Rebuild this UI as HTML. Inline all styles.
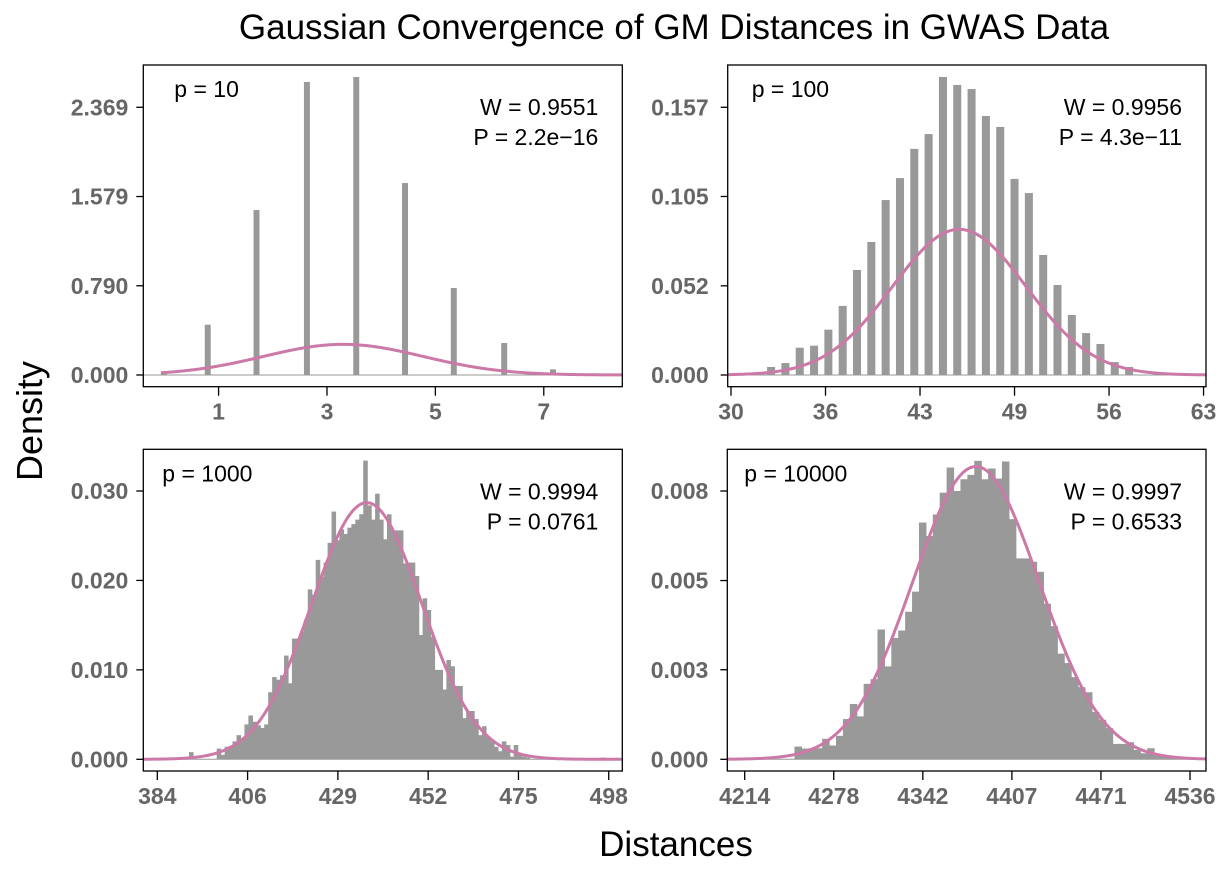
<!DOCTYPE html>
<html><head><meta charset="utf-8">
<style>
html,body{margin:0;padding:0;background:#fff;}
svg{display:block;font-family:"Liberation Sans",Arial,sans-serif;}
.tick{font-size:23px;font-weight:bold;fill:#666;}
.ann{font-size:23px;fill:#000;}
</style></head>
<body>
<svg id="chart" width="1229" height="871" viewBox="0 0 1229 871">
<text x="674" y="39" text-anchor="middle" font-size="35">Gaussian Convergence of GM Distances in GWAS Data</text>
<text x="0" y="0" transform="translate(42,421) rotate(-90)" text-anchor="middle" font-size="36">Density</text>
<text x="676" y="856" text-anchor="middle" font-size="35">Distances</text>
</svg>
<script>
// ---- Panel 1: p = 10 ----
const p10Centers = [-0.04, 0.77, 1.67, 2.6, 3.51, 4.41, 5.31, 6.24, 7.14];
const p10Density = [0.029, 0.445, 1.46, 2.593, 2.637, 1.699, 0.77, 0.283, 0.05];
const p10XTickVals = [0.97, 2.97, 4.97, 6.97];
const p10XTickLabels = ["1", "3", "5", "7"];
const p10YTickVals = [0, 0.7897, 1.5793, 2.369];
const p10YTickLabels = ["0.000", "0.790", "1.579", "2.369"];
const p10Fit = [3.27, 1.47];

// ---- Panel 2: p = 100 ----
const p100Centers = [32.8,33.8,34.8,35.8,36.8,37.8,38.8,39.8,40.8,41.8,42.8,43.8,44.8,45.8,46.8,47.8,48.8,49.8,50.8,51.8,52.8,53.8,54.8,55.8,56.8,57.8];
const p100Density = [0.0047,0.007,0.016,0.0172,0.0266,0.0405,0.0616,0.078,0.1026,0.1155,0.1326,0.1413,0.1748,0.1701,0.1677,0.1519,0.1455,0.115,0.1067,0.0704,0.0528,0.0352,0.0246,0.0182,0.0076,0.0047];
const p100XTickVals = [30, 36.6, 43.2, 49.8, 56.4, 63];
const p100XTickLabels = ["30", "36", "43", "49", "56", "63"];
const p100YTickVals = [0, 0.0523, 0.1047, 0.157];
const p100YTickLabels = ["0.000", "0.052", "0.105", "0.157"];
const p100Fit = [45.94, 4.67];

// ---- Panel 3: p = 1000 (bins of width 1 starting at 384) ----
const p1000Start = 384;
const p1000Width = 1;
const p1000Density = [0,0.0002,0,0,0,0,0,0,0.0008,0,0,0,0,0,0,0.0012,0.0005,0.0014,0.0015,0.002,0.0027,0.0022,0.0039,0.0049,0.0042,0.0038,0.0035,0.0039,0.0075,0.0092,0.0089,0.0094,0.0116,0.0085,0.0135,0.0135,0.0143,0.0156,0.019,0.0184,0.0223,0.0204,0.022,0.0242,0.0277,0.0245,0.0257,0.0252,0.0259,0.0263,0.0268,0.0274,0.0334,0.0284,0.0268,0.0297,0.0268,0.0246,0.0274,0.0255,0.0256,0.0256,0.0219,0.022,0.022,0.0205,0.0139,0.018,0.0167,0.0137,0.01,0.01,0.0078,0.0111,0.0104,0.0082,0.0082,0.0046,0.0054,0.0054,0.0045,0.0027,0.0037,0.0025,0.002,0.0014,0.0009,0.002,0.0016,0.0003,0.0016,0.0005,0.0003,0.0002,0,0,0,0,0,0,0,0,0,0,0,0,0,0,0,0,0,0,0.0002];
const p1000XTickVals = [384, 406.8, 429.6, 452.4, 475.2, 498];
const p1000XTickLabels = ["384", "406", "429", "452", "475", "498"];
const p1000YTickVals = [0, 0.01, 0.02, 0.03];
const p1000YTickLabels = ["0.000", "0.010", "0.020", "0.030"];
const p1000Fit = [436.9, 13.9];

// ---- Panel 4: p = 10000 (bins of width 5 starting at 4250) ----
const p10000Start = 4250;
const p10000Width = 5;
const p10000Density = [0.00038,0.00032,0.00033,0.00033,0.00061,0.00041,0.0007,0.0012,0.00165,0.00128,0.00225,0.00239,0.00387,0.00277,0.00362,0.00384,0.0044,0.005,0.00706,0.00666,0.0073,0.00795,0.0087,0.008,0.00835,0.00848,0.0089,0.00835,0.00867,0.00837,0.00888,0.00716,0.00599,0.00599,0.00589,0.00559,0.00464,0.00397,0.00315,0.00287,0.00245,0.00215,0.002,0.00141,0.00118,0.00093,0.00046,0.00046,0.00051,0.00028,0.00018,0.00033,0.00013,0.00008,0.00008];
const p10000XTickVals = [4214, 4278.4, 4342.8, 4407.2, 4471.6, 4536];
const p10000XTickLabels = ["4214", "4278", "4342", "4407", "4471", "4536"];
const p10000YTickVals = [0, 0.00267, 0.00533, 0.008];
const p10000YTickLabels = ["0.000", "0.003", "0.005", "0.008"];
const p10000Fit = [4381.2, 45.7];

const NS = "http://www.w3.org/2000/svg";
const svg = document.getElementById("chart");
function mk(tag, attrs, parent) {
  const e = document.createElementNS(NS, tag);
  for (const k in attrs) e.setAttribute(k, attrs[k]);
  (parent || svg).appendChild(e);
  return e;
}

function panel(cfg) {
  const g = mk("g", {});
  
  
  const sx = v => cfg.px0 + (v - cfg.xv0) * cfg.pxPerX;
  const sy = v => cfg.y0 - (v - cfg.yTicks[0]) / (cfg.yTicks[cfg.yTicks.length-1] - cfg.yTicks[0]) * (cfg.y0 - cfg.yTop);
  const clip = "clip-" + cfg.name;
  const cp = mk("clipPath", {id: clip}, g);
  mk("rect", {x: cfg.box[0], y: cfg.box[1], width: cfg.box[2]-cfg.box[0], height: cfg.box[3]-cfg.box[1]}, cp);
  const inner = mk("g", {"clip-path": "url(#" + clip + ")"}, g);
  const base = mk("line", {x1: cfg.box[0], x2: cfg.box[2], y1: sy(0), y2: sy(0), stroke: "#999", "stroke-width": 1}, inner);
  
  
  cfg.bars.forEach((b, i) => {
    if (b[2] <= 0) return;
    const x1 = sx(b[0]), x2 = sx(b[1]);
    const r = mk("rect", {x: x1, y: sy(b[2]), width: Math.max(x2 - x1 + cfg.overlap, 0.5), height: sy(0) - sy(b[2]), fill: "#999999"}, inner);
    
    
  });
  const [mu, sd] = cfg.fit;
  const xa = cfg.xv0 + (cfg.curveStart - cfg.px0) / cfg.pxPerX;
  const xb = cfg.xv0 + (cfg.box[2] - cfg.px0) / cfg.pxPerX;
  let d = "";
  for (let i = 0; i <= 300; i++) {
    const v = xa + (xb - xa) * i / 300;
    const dens = Math.exp(-0.5 * ((v - mu) / sd) ** 2) / (sd * Math.sqrt(2 * Math.PI));
    d += (i ? "L" : "M") + sx(v).toFixed(2) + "," + sy(dens).toFixed(2);
  }
  const c = mk("path", {d: d, fill: "none", stroke: "#CC79A7", "stroke-width": 3}, inner);
  
  
  const fr = mk("rect", {x: cfg.box[0], y: cfg.box[1], width: cfg.box[2]-cfg.box[0], height: cfg.box[3]-cfg.box[1], fill: "none", stroke: "#000", "stroke-width": 1.3}, g);
  
  
  cfg.yTicks.forEach((v, i) => {
    const y = sy(v);
    mk("line", {x1: cfg.box[0] - 7, x2: cfg.box[0], y1: y, y2: y, stroke: "#000", "stroke-width": 1.3}, g);
    const t = mk("text", {x: cfg.box[0] - cfg.yLabOff, y: y + 8, "text-anchor": "end", class: "tick"}, g);
    t.textContent = cfg.yLabels[i];
    
    
  });
  cfg.xTicks.forEach((v, i) => {
    const x = sx(v);
    mk("line", {x1: x, x2: x, y1: cfg.box[3], y2: cfg.box[3] + 9, stroke: "#000", "stroke-width": 1.3}, g);
    const t = mk("text", {x: x, y: cfg.box[3] + 33, "text-anchor": "middle", class: "tick"}, g);
    t.textContent = cfg.xLabels[i];
    
    
  });
  const t1 = mk("text", {x: cfg.box[0] + cfg.pOff, y: cfg.box[1] + 32, class: "ann"}, g);
  t1.textContent = cfg.pLabel;
  
  
  const t2 = mk("text", {x: cfg.box[2] - 24, y: cfg.box[1] + 50, "text-anchor": "end", class: "ann"}, g);
  t2.textContent = cfg.w;
  
  
  const t3 = mk("text", {x: cfg.box[2] - 24, y: cfg.box[1] + 80, "text-anchor": "end", class: "ann"}, g);
  t3.textContent = cfg.p;
  
  
}

panel({name: "panel-p10", box: [143.3, 65, 622.3, 386.7], px0: 166, xv0: 0, pxPerX: 54.2, y0: 375, yTop: 107.3,
  yTicks: p10YTickVals, yLabels: p10YTickLabels, xTicks: p10XTickVals, xLabels: p10XTickLabels,
  bars: p10Centers.map((c, i) => [c - 0.055, c + 0.055, p10Density[i]]), fit: p10Fit, overlap: 0, curveStart: 161, yLabOff: 15,
  pLabel: "p = 10", pOff: 31, w: "W = 0.9551", p: "P = 2.2e\u221216"});
panel({name: "panel-p100", box: [727.7, 65, 1206, 386.7], px0: 731, xv0: 30, pxPerX: 14.32, y0: 375, yTop: 107.3,
  yTicks: p100YTickVals, yLabels: p100YTickLabels, xTicks: p100XTickVals, xLabels: p100XTickLabels,
  bars: p100Centers.map((c, i) => [c - 0.28, c + 0.28, p100Density[i]]), fit: p100Fit, overlap: 0, curveStart: 727.7, yLabOff: 19,
  pLabel: "p = 100", pOff: 24, w: "W = 0.9956", p: "P = 4.3e\u221211"});
panel({name: "panel-p1000", box: [143.3, 449.3, 622.3, 771], px0: 157.3, xv0: 384, pxPerX: 3.96, y0: 759.3, yTop: 491,
  yTicks: p1000YTickVals, yLabels: p1000YTickLabels, xTicks: p1000XTickVals, xLabels: p1000XTickLabels,
  bars: p1000Density.map((d, i) => [p1000Start + i * p1000Width, p1000Start + (i + 1) * p1000Width, d]), fit: p1000Fit, overlap: 0.6, curveStart: 143.3, yLabOff: 15,
  pLabel: "p = 1000", pOff: 19, w: "W = 0.9994", p: "P = 0.0761"});
panel({name: "panel-p10000", box: [727.3, 449.3, 1206, 771], px0: 744.7, xv0: 4214, pxPerX: 1.383, y0: 759.3, yTop: 491,
  yTicks: p10000YTickVals, yLabels: p10000YTickLabels, xTicks: p10000XTickVals, xLabels: p10000XTickLabels,
  bars: p10000Density.map((d, i) => [p10000Start + i * p10000Width, p10000Start + (i + 1) * p10000Width, d]), fit: p10000Fit, overlap: 0.6, curveStart: 727.3, yLabOff: 19,
  pLabel: "p = 10000", pOff: 17, w: "W = 0.9997", p: "P = 0.6533"});
</script>
</body></html>
